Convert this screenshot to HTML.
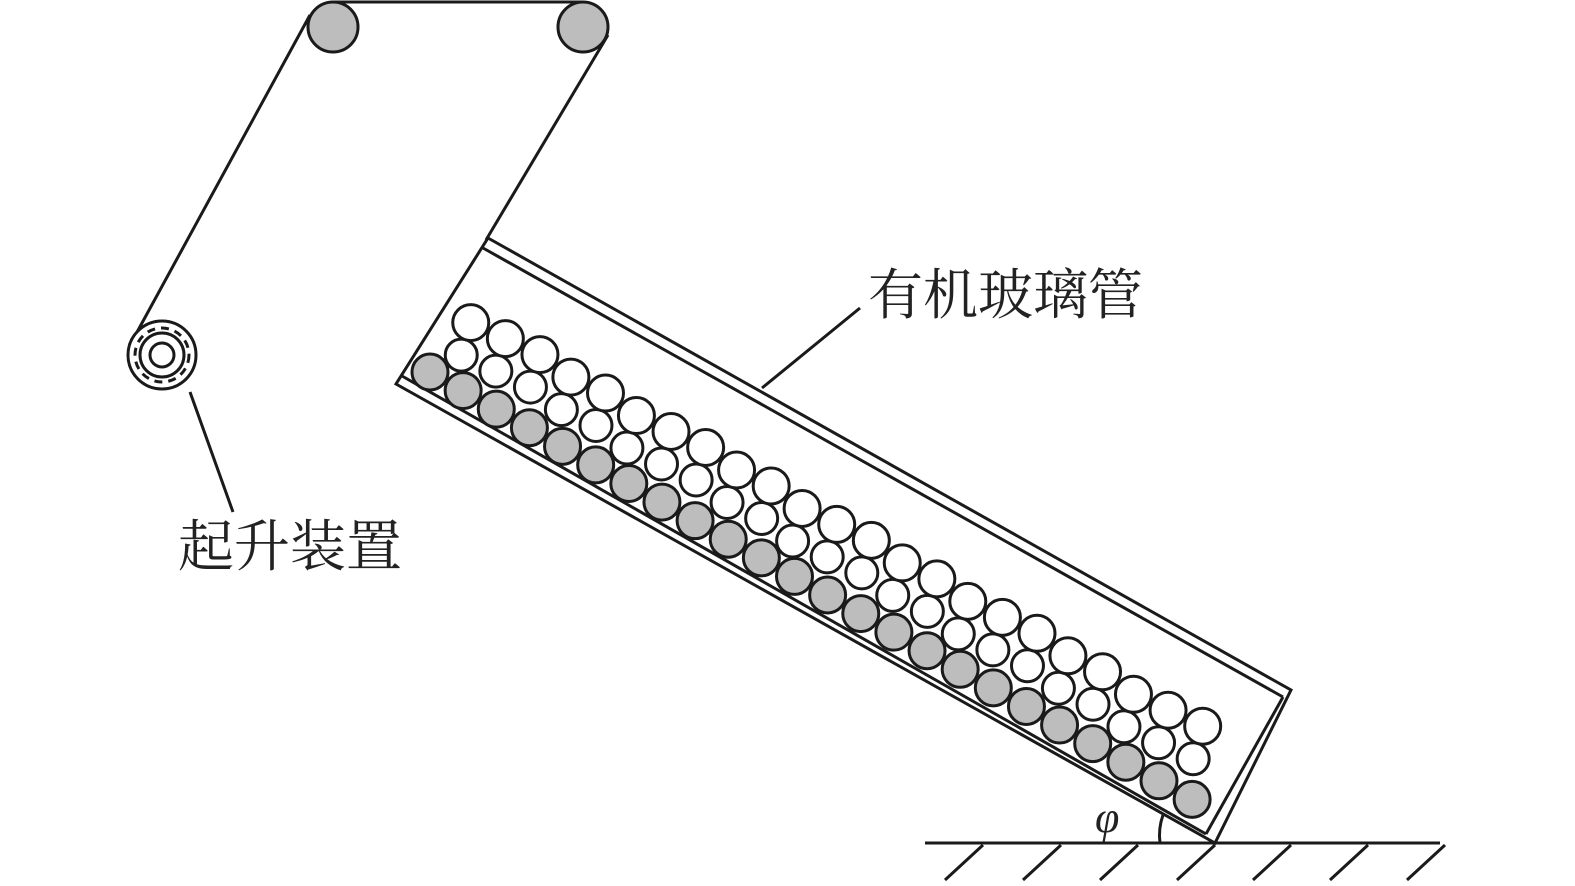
<!DOCTYPE html>
<html><head><meta charset="utf-8"><style>
html,body{margin:0;padding:0;background:#fff;}
svg{display:block;}
text{font-family:"Liberation Serif","Noto Serif CJK SC",serif;fill:#222;}
</style></head><body>
<svg id="s" width="1575" height="886" viewBox="0 0 1575 886" xmlns="http://www.w3.org/2000/svg">
<g stroke="#1a1a1a" stroke-width="3" fill="none">
<line x1="333" y1="2" x2="583" y2="2"/>
<line x1="310" y1="15" x2="130" y2="345"/>
<line x1="608" y1="35" x2="486" y2="240"/>
<circle cx="333" cy="27" r="25" fill="#bdbdbd"/>
<circle cx="583" cy="27" r="25" fill="#bdbdbd"/>
<circle cx="162" cy="355" r="34" fill="#fff"/>
<circle cx="162" cy="355" r="27" stroke-dasharray="8,6"/>
<circle cx="162" cy="355" r="22"/>
<circle cx="162" cy="355" r="12"/>
<line x1="190" y1="392" x2="233" y2="512"/>
<line x1="860" y1="308" x2="762" y2="388"/>
<polygon points="488,238 1291,690 1215,843 396,384" fill="#fff"/>
<line x1="483" y1="248" x2="1283" y2="697"/>
<line x1="402" y1="376" x2="1206" y2="834"/>
<line x1="1283" y1="697" x2="1206" y2="834"/>
<line x1="925" y1="843" x2="1440" y2="843"/>
<path d="M1160,843 A60,60 0 0 1 1163,815"/>
</g>
<g id="balls" stroke="#1a1a1a" stroke-width="3"></g>
<g stroke="#1a1a1a" stroke-width="3" id="hatch"></g>
<text x="178" y="566" font-size="56">起升装置</text>
<text x="868" y="314" font-size="55">有机玻璃管</text>
<text x="1095" y="832" font-size="44" font-style="italic">φ</text>
</svg>
<script>
var ux=0.872,uy=0.489,nx=0.489,ny=-0.872,g=document.getElementById('balls'),h=document.getElementById('hatch');
function c(x,y,r,f){var e=document.createElementNS('http://www.w3.org/2000/svg','circle');e.setAttribute('cx',x);e.setAttribute('cy',y);e.setAttribute('r',r);e.setAttribute('fill',f);g.appendChild(e);}
var rows=[[0,0,24,18,'#bdbdbd'],[33,0.5,23,17,'#fff'],[66,0.3,23,19,'#fff']];
for(var k=1;k<3;k++){var R=rows[k];for(var i=0;i<R[2];i++){var s=(i+R[1])*38;var j=((i*7)%5-2)*1.5;c(430+s*ux+(R[0]+j)*nx,372+s*uy+(R[0]+j)*ny,R[3]+((i*3)%3-1),R[4]);}}
for(var i=0;i<24;i++){var s=i*38;c(430+s*ux,372+s*uy,18,'#bdbdbd');}
[985,1063,1140,1217,1293,1370,1447].forEach(function(x){var e=document.createElementNS('http://www.w3.org/2000/svg','line');e.setAttribute('x1',x-2);e.setAttribute('y1',845);e.setAttribute('x2',x-40);e.setAttribute('y2',880);h.appendChild(e);});
</script>
</body></html>
